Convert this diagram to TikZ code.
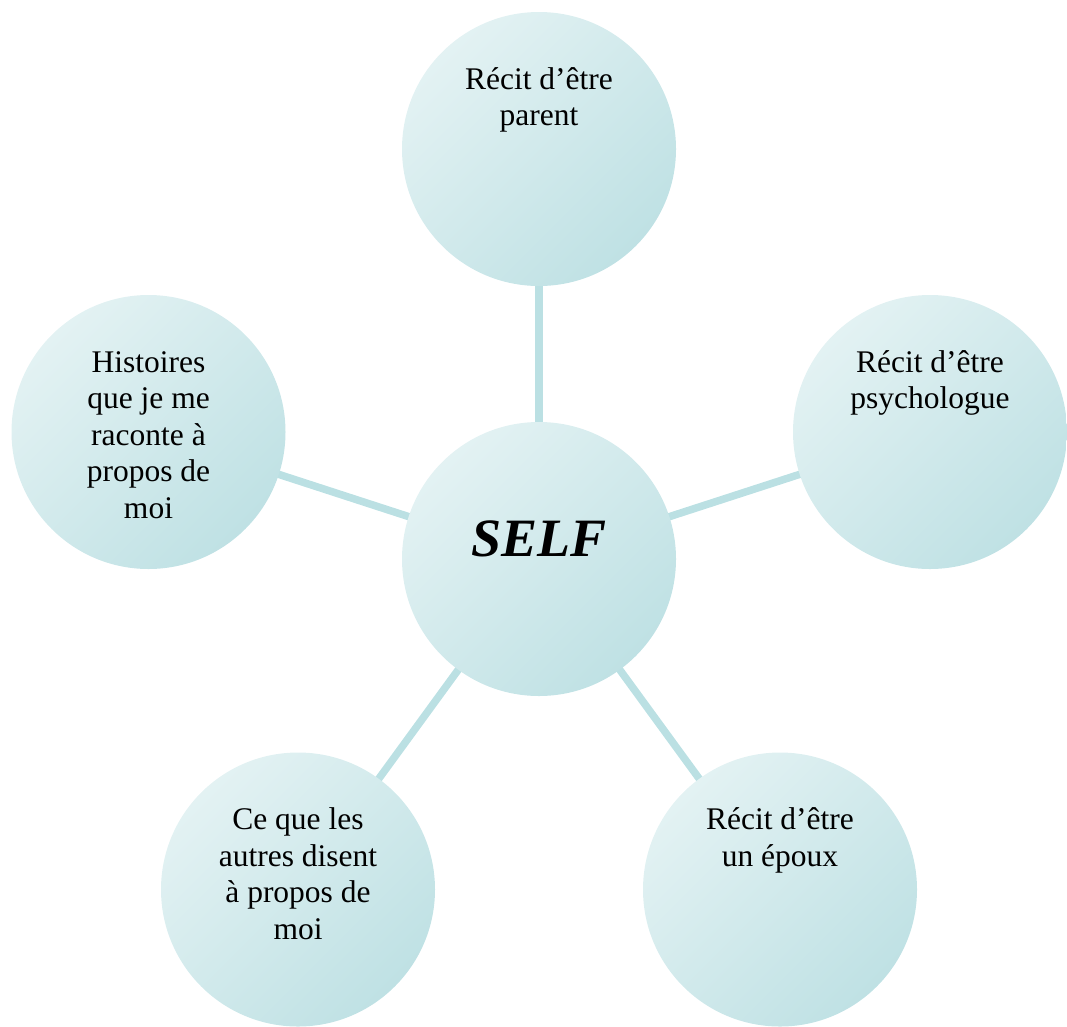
\documentclass[tikz,border=0pt]{standalone}
\usepackage{fontspec}
\setmainfont{Liberation Serif}
\usetikzlibrary{backgrounds}
\definecolor{bubblelight}{HTML}{E3F2F3}
\definecolor{bubbledark}{HTML}{BFE1E4}
\definecolor{spoke}{HTML}{BBE0E3}
\begin{document}
\begin{tikzpicture}[x=1pt,y=-1pt,
    bubble/.style={circle,minimum size=274pt,inner sep=0pt,outer sep=0pt,
      left color=bubblelight,right color=bubbledark,shading angle=45},
    txt/.style={anchor=north,align=center,inner sep=0pt,
      font=\fontsize{31.5}{36.5}\selectfont},
    link/.style={line width=7.5pt,draw=spoke,shorten <=-3pt,shorten >=-3pt},
  ]
  \useasboundingbox (0,0) rectangle (1067,1026);
  % circles
  \node[bubble] (self) at (539,559) {};
  \node[bubble] (parent) at (539,149) {};
  \node[bubble] (psy) at (930,432) {};
  \node[bubble] (spouse) at (780,889.5) {};
  \node[bubble] (others) at (298,889.5) {};
  \node[bubble] (stories) at (148.5,432) {};
  % spokes
  \begin{scope}[on background layer]
    \foreach \n in {parent,psy,spouse,others,stories}
      \draw[link] (self) -- (\n);
  \end{scope}
  % labels
  \node[anchor=base,inner sep=0pt,font=\fontsize{54}{60}\selectfont\bfseries\itshape]
    (self-t) at ([yshift=3pt]self.center) {SELF};
  \node[txt] (parent-t) at ([yshift=85.5pt]parent.center) {\strut Récit d’être\\parent};
  \node[txt] (psy-t) at ([yshift=85.5pt]psy.center) {\strut Récit d’être\\psychologue};
  \node[txt] (spouse-t) at ([yshift=85.5pt]spouse.center) {\strut Récit d’être\\un époux};
  \node[txt] (others-t) at ([yshift=85.5pt]others.center)
    {\strut Ce que les\\autres disent\\à propos de\\moi};
  \node[txt] (stories-t) at ([yshift=85.5pt]stories.center)
    {\strut Histoires\\que je me\\raconte à\\propos de\\moi};
\end{tikzpicture}
\end{document}
